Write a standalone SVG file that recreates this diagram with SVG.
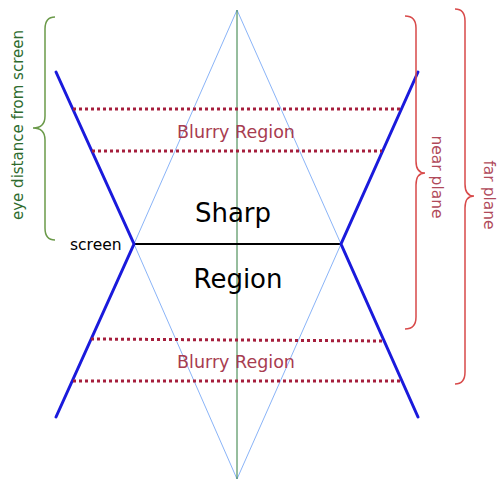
<svg xmlns="http://www.w3.org/2000/svg" width="498" height="480" viewBox="0 0 498 480">
<style>
text{font-family:"DejaVu Sans",Verdana,sans-serif}
.thin{stroke:#8ab4f8;stroke-width:1;fill:none}
.axis{stroke:#2e7d3c;stroke-width:1;fill:none}
.frust{stroke:#1a1adc;stroke-width:3;fill:none;stroke-linecap:round}
.dot{stroke:#a51e3c;stroke-width:3;stroke-dasharray:3,3;fill:none}
.blur{fill:#a83c50;font-size:17.5px;text-anchor:middle}
.big{fill:#000;font-size:26px;text-anchor:middle}
.brace-g{stroke:#6b9a4a;stroke-width:1.5;fill:none}
.brace-r{stroke:#d84a4a;stroke-width:1.5;fill:none}
.lbl-r{fill:#b04a5a;font-size:15.5px;text-anchor:middle}
</style>
<g id="connectors">
<path class="thin" d="M237,10 L134,244 L237,479 L341,244 Z"/>
<line class="axis" x1="237" y1="10" x2="237" y2="479"/>
<line x1="134" y1="244" x2="341" y2="244" stroke="#000" stroke-width="2"/>
<polyline class="frust" points="56,72 134,244 56,417"/>
<polyline class="frust" points="418,72 341,244 418,417"/>
<line class="dot" x1="73" y1="109" x2="401" y2="109"/>
<line class="dot" x1="92" y1="151" x2="382" y2="151"/>
<line class="dot" x1="91" y1="339" x2="384" y2="341"/>
<line class="dot" x1="73" y1="381" x2="402" y2="381"/>
</g>
<g id="blurry-top"><text class="blur" x="236" y="138">Blurry Region</text></g>
<g id="blurry-bottom"><text class="blur" x="236" y="368">Blurry Region</text></g>
<g id="sharp-region"><text class="big" x="233" y="222">Sharp</text><text class="big" x="238" y="288">Region</text></g>
<g id="screen"><text x="70" y="250" font-size="15.5" fill="#000">screen</text></g>
<g id="eye-distance">
<path class="brace-g" d="M55,17 Q45,17 45,29 L45,116 Q45,128 33,128 Q45,128 45,140 L45,228 Q45,240 55,240"/>
<text transform="translate(23,125) rotate(-90)" font-size="15" fill="#2e6b2e" text-anchor="middle">eye distance from screen</text>
</g>
<g id="near-plane">
<path class="brace-r" d="M405,16 Q416,16 416,28 L416,161 Q416,173 425,173 Q416,173 416,185 L416,317 Q416,329 405,329"/>
<text class="lbl-r" transform="translate(432,177) rotate(90)">near plane</text>
</g>
<g id="far-plane">
<path class="brace-r" d="M455,9 Q465,9 465,21 L465,184 Q465,196 474,196 Q465,196 465,208 L465,372 Q465,384 455,384"/>
<text class="lbl-r" transform="translate(484,195) rotate(90)">far plane</text>
</g>
</svg>
